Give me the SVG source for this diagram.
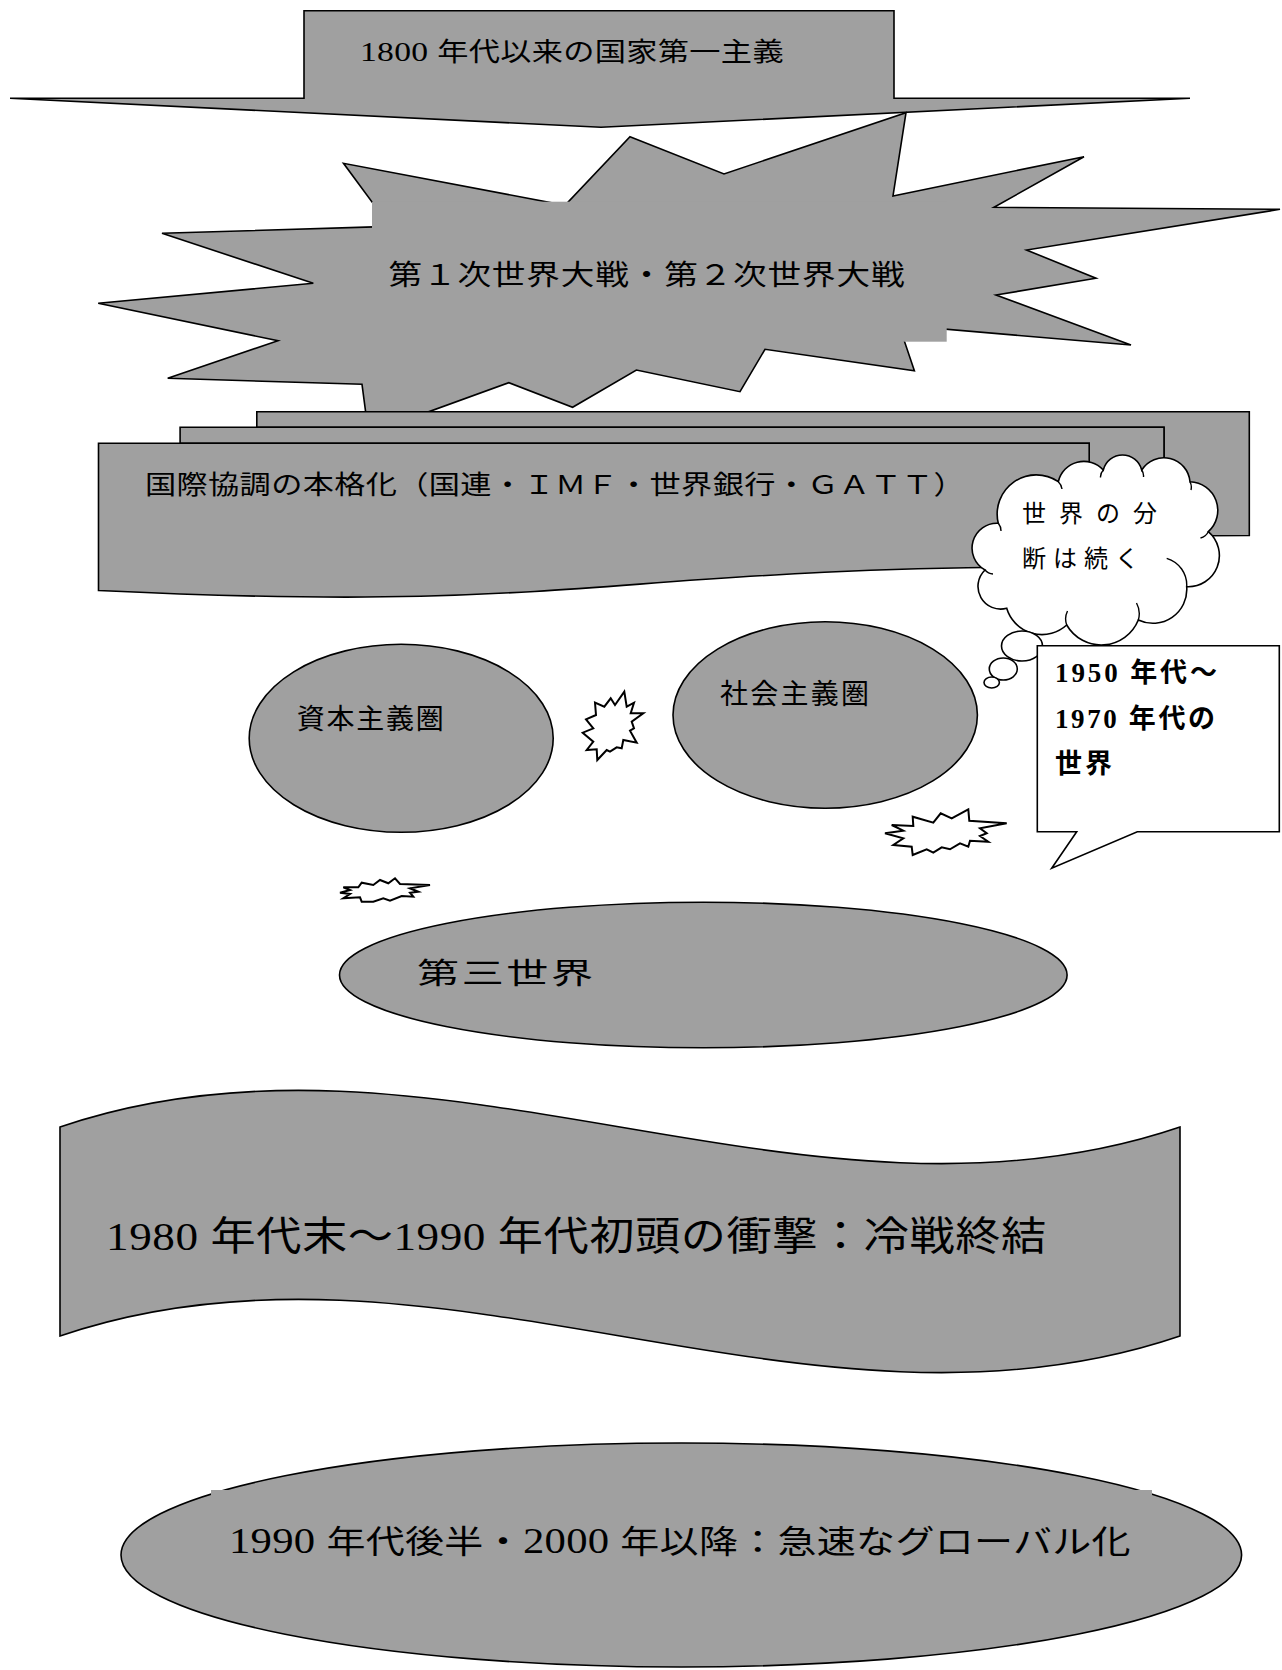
<svg xmlns="http://www.w3.org/2000/svg" width="1282" height="1670" viewBox="0 0 1282 1670">
<style>
.gray{fill:#a0a0a0;stroke:#000;stroke-width:1.6;stroke-linejoin:miter}
.box{fill:#a0a0a0;stroke:none}
.wh{fill:#fff;stroke:#000;stroke-width:1.6}
.star{fill:#fff;stroke:#000;stroke-width:2}
.ln{fill:none;stroke:#000;stroke-width:1.4}
text{font-family:"Liberation Serif","Noto Sans CJK JP",serif;fill:#000}
.sans{font-family:"Noto Sans CJK JP",sans-serif}
</style>
<rect width="1282" height="1670" fill="#fff"/>

<g id="arrow-1800">
<polygon class="gray" points="304,10.7 894,10.7 894,98.3 1190,98.3 601,127.3 10,98.3 304,98.3"/>
<text transform="translate(360,61) scale(1.2,1)" font-size="26" textLength="353" lengthAdjust="spacing"><tspan font-size="28">1800 </tspan>年代以来の国家第一主義</text>
</g>

<g id="explosion-wars">
<polygon class="gray" points="630,136.7 724,174 906,112.7 893,196 1084,156.7 994,207.3 1280,209.3 1026.5,250 1096,278.3 996,295 1131,345 899,325.2 914.4,370.7 765,349.3 740,391.7 636.4,370 572.6,407.3 508.8,382.7 368.5,433.6 362,384.3 167.7,378.3 278,340.7 98.2,303.3 313.3,283.3 162,233.3 390,226.4 343.5,163.3 565,205.3"/>
<rect class="box" x="372" y="201.7" width="574.7" height="140"/>
<text transform="translate(388.5,284.5) scale(1.2,1)" font-size="28" textLength="430" lengthAdjust="spacing">第１次世界大戦・第２次世界大戦</text>
</g>

<g id="multidoc-cooperation">
<path class="gray" d="M256.8,427.3 L256.8,411.7 L1249.3,411.7 L1249.3,535.5 C1206.7,535.5 1164,536.1 1164,536.1 L1164,427.3 Z"/>
<path class="gray" d="M180.1,443.3 L180.1,427.3 L1164,427.3 L1164,551.5 C1126.6,551.5 1089.2,552.4 1089.2,552.4 L1089.2,443.3 Z"/>
<path class="gray" d="M98.5,590.5 C593.9,614.2 593.9,566.7 1089.2,566.7 L1089.2,443.3 L98.5,443.3 Z"/>
<text transform="translate(145,493.5) scale(1.2,1)" font-size="26" textLength="683" lengthAdjust="spacing">国際協調の本格化（国連・ＩＭＦ・世界銀行・ＧＡＴＴ）</text>
</g>

<g id="cloud-division">
<path class="wh" d="M998.3,523.3 A39.1,39.1 0 0 1 1058.3,481.7 A26.2,26.2 0 0 1 1103.3,470 A19.8,19.8 0 0 1 1141.7,470 A26.2,26.2 0 0 1 1190,481.7 A28.7,28.7 0 0 1 1208.3,531.7 A31.2,31.2 0 0 1 1186.7,586.7 A33.9,33.9 0 0 1 1138.3,620 A39.9,39.9 0 0 1 1066.7,625 A36.8,36.8 0 0 1 1006.7,608.3 A22.7,22.7 0 0 1 985,570 A24.9,24.9 0 0 1 998.3,523.3 Z"/>
<path class="ln" d="M1166.7,558.3 A28,28 0 0 1 1186.7,586.7 M1136.5,603 A22,22 0 0 1 1138.3,620 M1067.5,611 A18,18 0 0 0 1066.7,625 M985,570 A12,12 0 0 0 993,574 M998.3,523.3 A12,12 0 0 1 1001,531 M1058.3,481.7 A12,12 0 0 1 1062,489 M1103.3,470 A10,10 0 0 0 1100.5,477.5 M1141.7,470 A10,10 0 0 1 1143.5,477 M1190,481.7 A12,12 0 0 1 1191,490 M1208.3,531.7 A12,12 0 0 1 1200.5,538"/>
<ellipse class="wh" cx="1022" cy="646" rx="20.5" ry="15"/>
<ellipse class="wh" cx="1003.3" cy="669" rx="14" ry="11"/>
<ellipse class="wh" cx="991.7" cy="682.5" rx="7.7" ry="5.5"/>
<text x="1022" y="521.5" font-size="24" textLength="135" lengthAdjust="spacing">世界の分</text>
<text x="1022" y="566.5" font-size="24" textLength="117" lengthAdjust="spacing">断は続く</text>
</g>

<g id="callout-1950s">
<path class="wh" d="M1037.3,645.7 L1279.3,645.7 L1279.3,831.7 L1137.3,831.7 L1051.7,868.3 L1076.7,831.7 L1037.3,831.7 Z"/>
<text x="1055" y="682.3" font-size="27" font-weight="bold" textLength="162" lengthAdjust="spacing">1950 年代～</text>
<text x="1055" y="728.3" font-size="27" font-weight="bold" textLength="160" lengthAdjust="spacing">1970 年代の</text>
<text x="1055" y="773" font-size="27" font-weight="bold" textLength="57" lengthAdjust="spacing">世界</text>
</g>

<g id="capitalist-bloc">
<ellipse class="gray" cx="401.2" cy="738.3" rx="152" ry="94"/>
<text class="sans" x="296.7" y="728.5" font-size="28" textLength="147" lengthAdjust="spacing">資本主義圏</text>
</g>

<g id="socialist-bloc">
<ellipse class="gray" cx="825.2" cy="715" rx="152.2" ry="93.2"/>
<text class="sans" x="720" y="703.5" font-size="28" textLength="149" lengthAdjust="spacing">社会主義圏</text>
</g>

<g id="clash-1">
<polygon class="star" points="624.3,691.7 626.7,706.7 634,702.7 630.7,713.3 643.3,713.3 631.7,721.7 634,728.3 630,730.7 636.7,742.7 623.3,740 621.7,748.3 616.7,747.3 610,751.7 606.7,750 597.3,760 596.7,749.3 586.7,750 593.3,741.7 582.7,732.7 593.3,728.3 586,719.3 596,715 595,702.7 604.3,706.7 610.7,698.3 615,705"/>
</g>
<g id="clash-2">
<polygon class="star" points="891.7,825 913.3,826 912.7,816.7 933.3,822.7 940.7,813.3 951.7,818.3 968.3,809.3 969.3,820.7 1006.7,823.3 980,828.3 986.7,833.3 980,836 988.3,841.7 970,840.7 968.3,846.7 960,843.3 950,849.3 941.7,847.3 933.3,852.7 926.7,849.3 912.7,855 911.7,846.7 893.3,845 903.3,838.3 885,833.3 903.3,830.7"/>
</g>
<g id="clash-3">
<polygon class="star" points="343.3,887.3 358.3,887.3 361.7,882.7 373.3,885 380,880 388.3,883.3 395,878.3 400,884 430,885 410,888.3 418.3,891.7 410,892.7 413.3,896.7 401.7,896 390,900.7 383.3,898.3 373.3,901.7 361.7,901.7 360,897.3 343.3,898.3 350,894 340,892.7 350,890"/>
</g>

<g id="third-world">
<ellipse class="gray" cx="703.3" cy="975" rx="363.8" ry="72.8"/>
<text transform="translate(417,984) scale(1.45,1)" font-size="29" textLength="121.4" lengthAdjust="spacing">第三世界</text>
</g>

<g id="wave-cold-war-end">
<path class="gray" d="M60,1127 C433,1000 807,1254 1180,1127 L1180,1336 C807,1463 433,1209 60,1336 Z"/>
<text transform="translate(106,1250) scale(1.13,1)" font-size="40" textLength="832" lengthAdjust="spacing">1980 年代末～1990 年代初頭の衝撃：冷戦終結</text>
</g>

<g id="globalization">
<ellipse class="gray" cx="681.3" cy="1555" rx="560.3" ry="112"/>
<rect class="box" x="211" y="1490" width="941" height="110"/>
<text transform="translate(229,1553) scale(1.22,1)" font-size="32" textLength="739" lengthAdjust="spacing"><tspan font-size="35">1990 </tspan>年代後半・<tspan font-size="35">2000 </tspan>年以降：急速なグローバル化</text>
</g>

<g id="connectors"></g>
</svg>
